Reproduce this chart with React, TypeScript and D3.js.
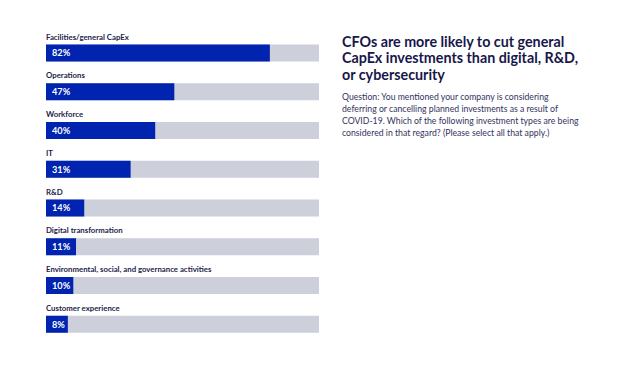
import * as d3 from 'd3'

const categories = [
  'Facilities/general CapEx',
  'Operations',
  'Workforce',
  'IT',
  'R&D',
  'Digital transformation',
  'Environmental, social, and governance activities',
  'Customer experience',
]
const values = [82, 47, 40, 31, 14, 11, 10, 8]

const titleLines = [
  'CFOs are more likely to cut general',
  'CapEx investments than digital, R&D,',
  'or cybersecurity',
]
const questionLines = [
  'Question: You mentioned your company is considering',
  'deferring or cancelling planned investments as a result of',
  'COVID-19. Which of the following investment types are being',
  'considered in that regard? (Please select all that apply.)',
]

const W = 640
const H = 365
const font = 'Lato, "Open Sans", sans-serif'

export default function App() {
  const x = d3.scaleLinear().domain([0, 100]).range([46, 319])
  const y = d3
    .scaleBand<string>()
    .domain(categories)
    .range([31.5, 341.5])
    .paddingInner(0)

  const barH = 17
  const barOffset = 13

  return (
    <svg
      width={W}
      height={H}
      style={{ position: 'absolute', left: 0, top: 0, background: '#fff' }}
    >
      {categories.map((c, i) => {
        const top = y(c)!
        return (
          <g key={c}>
            <text
              x={46}
              y={top + 8}
              fontFamily={font}
              fontWeight={700}
              fontSize={7.8}
              fill="#1d1d4a"
            >
              {c}
            </text>
            <rect x={x(0)} y={top + barOffset} width={x(100) - x(0)} height={barH} fill="#cdd0da" />
            <rect x={x(0)} y={top + barOffset} width={x(values[i]) - x(0)} height={barH} fill="#0023b0" />
            <text
              x={x(0) + 6}
              y={top + barOffset + barH / 2 + 3.3}
              fontFamily={font}
              fontWeight={700}
              fontSize={9.2}
              fill="#fff"
            >
              {values[i]}%
            </text>
          </g>
        )
      })}

      {titleLines.map((t, i) => (
        <text
          key={t}
          x={342}
          y={47 + i * 16.3}
          fontFamily={font}
          fontWeight={700}
          fontSize={14.3}
          fill="#17174a"
        >
          {t}
        </text>
      ))}
      {questionLines.map((t, i) => (
        <text
          key={t}
          x={342}
          y={99.5 + i * 12.1}
          fontFamily={font}
          fontSize={8.7}
          fill="#33335e"
        >
          {t}
        </text>
      ))}
    </svg>
  )
}
